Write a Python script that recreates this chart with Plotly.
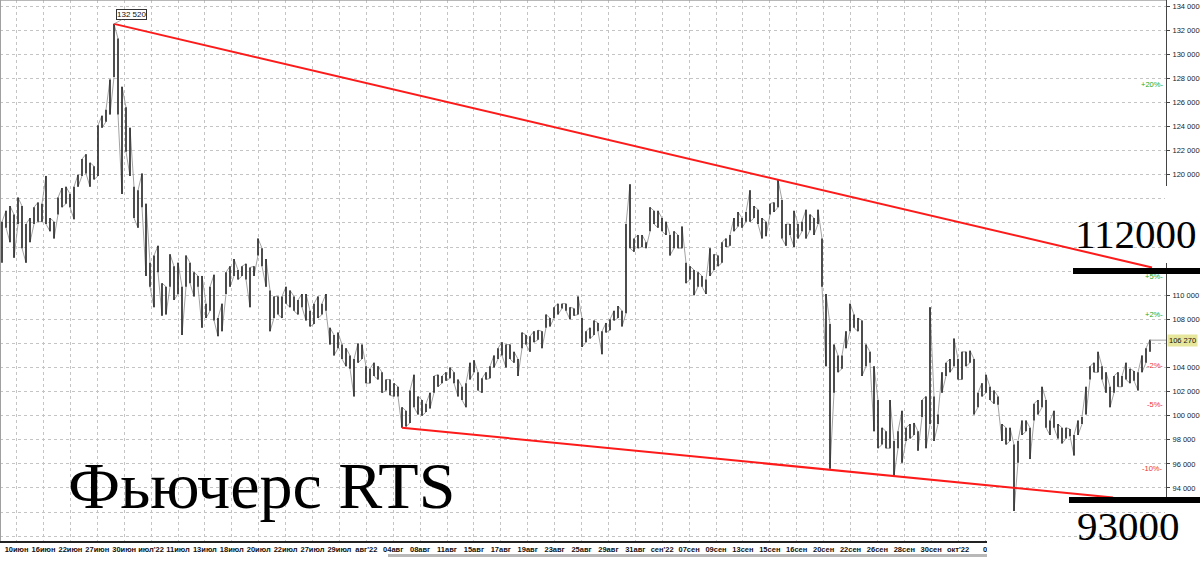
import plotly.graph_objects as go

# ---------------- data ----------------
high = [
    116100, 117000, 117400, 116700, 118100, 117400, 115900, 116400, 117300, 117700,
    117600, 119900, 116400, 116100, 118100, 118900, 119000, 118400, 119000, 120000,
    121300, 121700, 121000, 120700, 124100, 124900, 125400, 127900, 132520, 131300,
    127300, 125600, 123900, 119000, 118700, 120100, 117600, 112700, 113300, 114100,
    111000, 110700, 113400, 112400, 112700, 110700, 113300, 112700, 111900, 111600,
    111600, 109300, 110700, 111700, 108100, 109300, 111900, 112400, 113000, 112100,
    112400, 112600, 112300, 112400, 114700, 113900, 113000, 110400, 109900, 109900,
    109900, 110700, 110400, 109900, 109600, 110100, 110100, 108700, 109300, 109900,
    109300, 110100, 107300, 106700, 106900, 105900, 105600, 105000, 104700, 106000,
    105900, 104100, 103900, 104400, 104100, 103600, 103000, 103000, 102700, 102400,
    100700, 100400, 102100, 103400, 101600, 101300, 101000, 101900, 103300, 103400,
    103300, 103600, 104000, 103600, 103000, 102400, 102700, 104400, 104600, 103600,
    103100, 103600, 104100, 105000, 105600, 106100, 105900, 105900, 105300, 104700,
    106900, 106700, 106600, 107000, 107100, 107000, 108400, 108100, 109000, 109300,
    109300, 109300, 109000, 108900, 109900, 108100, 107000, 107300, 107900, 107700,
    107000, 107700, 108000, 108700, 109100, 108700, 115900, 119200, 114700, 115000,
    115000, 114400, 117300, 117000, 117000, 116400, 116100, 115000, 115300, 115000,
    115700, 112700, 112400, 112100, 111900, 111600, 111300, 113900, 113400, 113300,
    114400, 114700, 115000, 116400, 116900, 116400, 116900, 118700, 117400, 117100,
    116400, 116100, 117600, 117700, 119600, 117900, 115900, 115900, 117000, 115900,
    116100, 117100, 116700, 116400, 117100, 114700, 110100, 107600, 105900, 105000,
    105000, 107000, 109300, 108400, 108100, 107900, 105900, 105300, 104100, 101300,
    99000, 98700, 101300, 97900, 98700, 100400, 99000, 99300, 99400, 98700,
    101300, 101600, 109000, 101600, 100100, 103600, 104400, 104700, 106400, 104700,
    105300, 105300, 105400, 104700, 101900, 102700, 103400, 102400, 102100, 101600,
    99300, 99000, 99000, 97600, 97900, 99600, 99600, 99000, 101000, 101300,
    102400, 101300, 99600, 100400, 99300, 99000, 99000, 98900, 98400, 99600,
    99900, 102400, 104100, 104400, 105300, 104100, 103600, 102400, 103300, 103600,
    103300, 104400, 103900, 103700, 103600, 105000, 105600, 106300,
]
low = [
    112700, 115600, 114400, 113100, 115900, 113900, 112700, 114400, 115900, 116100,
    116100, 115900, 115300, 114700, 116700, 117300, 117600, 117300, 116300, 119000,
    119900, 120100, 119000, 119600, 119900, 123900, 124400, 125000, 128100, 125000,
    118400, 121900, 119900, 116400, 115600, 117300, 111600, 110700, 109000, 111900,
    108300, 108400, 110700, 109600, 110100, 106700, 110700, 111000, 109900, 110700,
    107300, 108100, 108700, 107900, 106600, 107000, 110100, 110700, 111600, 111300,
    111600, 111300, 109000, 111600, 113300, 112400, 110700, 107000, 108100, 108400,
    108100, 109300, 109000, 108700, 108400, 109000, 107900, 107400, 107600, 108100,
    108400, 108700, 105900, 105000, 105600, 104700, 104100, 103900, 101600, 104400,
    104700, 102700, 102700, 103300, 103000, 101900, 102100, 101700, 101600, 101600,
    99000, 99100, 99400, 100700, 100100, 100000, 100300, 100600, 101900, 102400,
    102700, 102900, 103100, 102700, 101600, 101300, 100700, 103000, 103600, 102100,
    101900, 103000, 103100, 104000, 104700, 105000, 104000, 104700, 104400, 103300,
    105600, 105900, 105300, 106100, 106300, 105600, 107300, 107400, 108100, 108400,
    108900, 108700, 108000, 108300, 108400, 105700, 106100, 106400, 106700, 107000,
    105100, 106900, 107100, 107900, 108100, 107400, 108500, 113900, 113600, 113900,
    114000, 113900, 115300, 115900, 115600, 115300, 115000, 113300, 113900, 113900,
    113900, 111000, 111300, 110000, 110700, 110700, 110100, 111600, 112100, 112400,
    112700, 114000, 114100, 115300, 115700, 115600, 116100, 116100, 116400, 115900,
    114700, 114900, 116700, 116900, 117300, 114700, 114100, 115000, 114000, 114700,
    115300, 114700, 115400, 115000, 115900, 110700, 104100, 95600, 101900, 103600,
    103900, 105600, 107000, 107300, 107000, 103300, 104100, 104400, 98700, 97300,
    97600, 97300, 97300, 95000, 97300, 96100, 97900, 98100, 98400, 97100,
    99900, 97300, 99300, 97900, 99300, 101900, 103300, 103600, 104100, 103000,
    103000, 104100, 104400, 100100, 100700, 101600, 101900, 101300, 101000, 100900,
    97900, 97600, 97900, 92100, 96100, 98400, 98700, 96400, 99600, 100100,
    100700, 99000, 98400, 99000, 98100, 97700, 98100, 98300, 96700, 98400,
    99300, 100100, 103000, 103600, 103600, 103000, 101900, 100700, 101900, 102400,
    102400, 103000, 102700, 102900, 102100, 103600, 104400, 105300,
]
last_price = 106270
peak_idx, peak_value = 28, 132520

x_labels = ["10июн", "16июн", "22июн", "27июн", "30июн", "июл'22", "11июл", "13июл",
            "18июл", "20июл", "22июл", "27июл", "29июл", "авг'22", "04авг", "08авг",
            "11авг", "15авг", "17авг", "19авг", "23авг", "25авг", "29авг", "31авг",
            "сен'22", "07сен", "09сен", "13сен", "15сен", "16сен", "20сен", "22сен",
            "26сен", "28сен", "30сен", "окт'22", "0"]
label_start, label_step = 3.65, 6.725   # bars between date labels

# price labels shown on the right axis (the rest are hidden behind the level notes)
y_labels = [94000, 96000, 98000, 100000, 102000, 104000, 108000, 110000,
            120000, 122000, 124000, 126000, 128000, 130000, 132000, 134000]

upper_trend_x = [28, 287.5]
upper_trend_y = [132520, 112300]
lower_trend_x = [100, 277.75]
lower_trend_y = [99000, 93200]

level_values = [112000, 93000]
level_texts = ["112000", "93000"]
pct_levels = [20, 5, 2, -2, -5, -10]

title_text = "Фьючерс RTS"

# ---------------- geometry helpers (pixels -> paper) ----------------
W, H = 1200, 561
PLOT_W, PLOT_H = 1166, 541


def px(x):
    return x / PLOT_W


def py(y):
    return (PLOT_H - y) / PLOT_H


# ---------------- figure ----------------
fig = go.Figure()

# thin grey zig-zag joining the bars (fills the gaps like the dense original bars)
zx, zy = [], []
for i, (h, l) in enumerate(zip(high, low)):
    zx += [i, i]
    zy += [l, h] if i % 2 == 0 else [h, l]
fig.add_trace(go.Scatter(x=zx, y=zy, mode="lines",
                         line=dict(color="#8a8a8a", width=0.8),
                         hoverinfo="skip", showlegend=False))

# high-low bars
bx, by = [], []
for i, (h, l) in enumerate(zip(high, low)):
    bx += [i, i, None]
    by += [l, h, None]
fig.add_trace(go.Scatter(x=bx, y=by, mode="lines",
                         line=dict(color="#151515", width=1.4),
                         hoverinfo="skip", showlegend=False))

# last price line to the axis
n = len(high)
fig.add_trace(go.Scatter(x=[n - 1, n + 3.5], y=[last_price, last_price], mode="lines",
                         line=dict(color="#a0a0a0", width=1), hoverinfo="skip",
                         showlegend=False))

# trend lines
fig.add_trace(go.Scatter(x=upper_trend_x, y=upper_trend_y, mode="lines",
                         line=dict(color="#ff1a1a", width=2), showlegend=False,
                         hoverinfo="skip"))
fig.add_trace(go.Scatter(x=lower_trend_x, y=lower_trend_y, mode="lines",
                         line=dict(color="#ff1a1a", width=2), showlegend=False,
                         hoverinfo="skip"))

tickvals = [label_start + label_step * k for k in range(len(x_labels))]

shapes = []
white = dict(type="rect", xref="paper", yref="paper", fillcolor="white",
             line=dict(width=0))
# white patches behind the big level labels
shapes.append(dict(white, x0=px(1057), x1=1, y0=py(263), y1=py(186), layer="between"))
shapes.append(dict(white, x0=px(1165), x1=px(1200), y0=py(263), y1=py(186), layer="above"))
shapes.append(dict(white, x0=px(1057), x1=1, y0=0, y1=py(503), layer="between"))
shapes.append(dict(white, x0=px(1165), x1=px(1200), y0=py(561), y1=py(503), layer="above"))
shapes.append(dict(white, x0=px(987), x1=px(1166), y0=py(561), y1=py(540.5), layer="above"))
# thick level lines
for v, x0 in zip(level_values, [1073, 1069]):
    shapes.append(dict(type="line", xref="paper", yref="y", x0=px(x0), x1=px(1200),
                       y0=v, y1=v, line=dict(color="black", width=6), layer="above"))
# window borders and scrollbar
shapes.append(dict(type="line", xref="paper", yref="paper", x0=0, x1=1, y0=1, y1=1,
                   line=dict(color="#a0a0a0", width=1.5), layer="above"))
shapes.append(dict(type="line", xref="paper", yref="paper", x0=0, x1=0, y0=0, y1=1,
                   line=dict(color="#a0a0a0", width=2), layer="above"))
shapes.append(dict(type="line", xref="paper", yref="paper", x0=px(388), x1=px(987),
                   y0=py(555.5), y1=py(555.5), line=dict(color="#b8b8b8", width=3),
                   layer="above"))

annotations = []
serif = "Liberation Serif, Times New Roman, serif"
annotations.append(dict(xref="paper", yref="paper", x=px(66), y=py(485), text=title_text,
                        showarrow=False, xanchor="left", yanchor="middle",
                        font=dict(family=serif, size=66, color="black")))
annotations.append(dict(xref="paper", yref="paper", x=px(1073), y=py(234),
                        text=level_texts[0], showarrow=False, xanchor="left",
                        yanchor="middle", font=dict(family=serif, size=41, color="black")))
annotations.append(dict(xref="paper", yref="paper", x=px(1075), y=py(526),
                        text=level_texts[1], showarrow=False, xanchor="left",
                        yanchor="middle", font=dict(family=serif, size=41, color="black")))
annotations.append(dict(x=peak_idx, y=peak_value, xref="x", yref="y",
                        text=f"{peak_value:,}".replace(",", " "), showarrow=True,
                        arrowhead=0, arrowwidth=0.7, arrowcolor="#888", ax=17, ay=-9,
                        bordercolor="#333", borderwidth=1, borderpad=0, bgcolor="white",
                        font=dict(family="Liberation Sans, Arial", size=8, color="#111")))
annotations.append(dict(xref="paper", yref="y", x=1, y=last_price, xanchor="left",
                        xshift=1, text=f"{last_price:,}".replace(",", " "),
                        showarrow=False, bgcolor="#e6e69c", borderpad=1,
                        font=dict(family="Liberation Sans, Arial", size=7.5, color="#111")))
for p in pct_levels:
    annotations.append(dict(xref="paper", yref="y", x=1, y=last_price * (1 + p / 100),
                            xanchor="right", xshift=-1,
                            text=(f"+{p}%-" if p > 0 else f"{p}%-"), showarrow=False,
                            font=dict(family="Liberation Sans, Arial", size=7.5,
                                      color="#22aa22" if p > 0 else "#ee3333")))

grid = dict(showgrid=True, gridcolor="#c4c4c4", griddash="dot", gridwidth=1)
fig.update_layout(
    width=W, height=H,
    margin=dict(l=0, r=W - PLOT_W, t=0, b=H - PLOT_H),
    paper_bgcolor="white", plot_bgcolor="white",
    separators=". ",
    showlegend=False,
    shapes=shapes,
    annotations=annotations,
    xaxis=dict(range=[-0.5, 291], tickvals=tickvals, ticktext=x_labels, **grid,
               showline=True, linecolor="#222", linewidth=1.5, ticks="",
               ticklabelstandoff=0, tickangle=0, automargin=False,
               tickfont=dict(family="Liberation Sans, Arial", size=7.5, color="#111",
                             weight="bold"),
               zeroline=False, fixedrange=True),
    yaxis=dict(range=[89600, 134500], side="right", tickvals=y_labels,
               tickformat=",d", **grid, automargin=False,
               minor=dict(dtick=2000, tick0=0, ticks="", **grid),
               showline=True, linecolor="#444", linewidth=1,
               ticks="outside", ticklen=3, tickcolor="#444", ticklabelstandoff=1,
               tickfont=dict(family="Liberation Sans, Arial", size=7.5, color="#222"),
               zeroline=False, fixedrange=True),
)

fig.write_html("out.html",
               config={"displayModeBar": False, "staticPlot": True},
               post_script="document.body.style.margin='0px';"
                           "document.body.style.overflow='hidden';")
